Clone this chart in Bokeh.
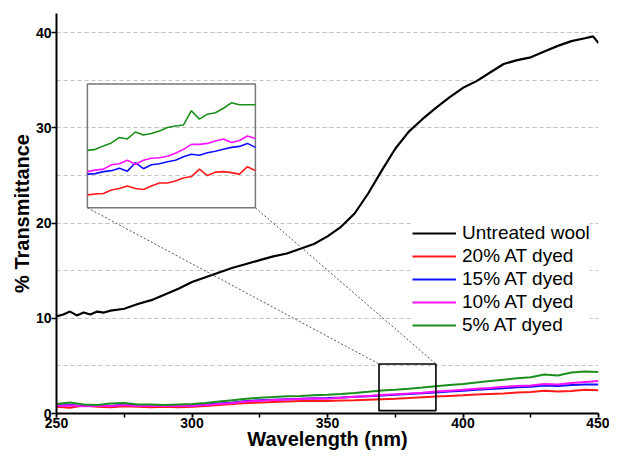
from bokeh.plotting import figure
from bokeh.models import Range1d, Legend, LegendItem, SingleIntervalTicker
from bokeh.embed import file_html
from bokeh.resources import INLINE

# ---------------- data ----------------
wl_black = [250, 252.5, 255, 257.5, 260, 262.5, 265, 267.5, 270, 275, 280, 285, 290, 295,
            300, 305, 310, 315, 320, 325, 330, 335, 340, 345, 350, 355, 360, 365, 370,
            375, 380, 385, 390, 395, 400, 405, 410, 415, 420, 425, 430, 435, 440, 445,
            448, 450]
untreated = [10.2, 10.4, 10.7, 10.3, 10.6, 10.4, 10.7, 10.6, 10.8, 11.0, 11.5, 11.9, 12.5,
             13.1, 13.8, 14.3, 14.8, 15.3, 15.7, 16.1, 16.5, 16.8, 17.3, 17.8, 18.6, 19.6,
             21.0, 23.1, 25.5, 27.8, 29.6, 30.9, 32.1, 33.2, 34.2, 34.9, 35.8, 36.7, 37.1,
             37.4, 38.0, 38.6, 39.1, 39.4, 39.6, 38.9]

wl_dyed = list(range(250, 455, 5))
at20 = [0.70, 0.60, 0.85, 0.70, 0.65, 0.75, 0.70, 0.65, 0.70, 0.65, 0.70, 0.80, 0.90, 1.00,
        1.10, 1.15, 1.20, 1.25, 1.30, 1.34, 1.32, 1.36, 1.40, 1.45, 1.50, 1.55, 1.62, 1.70,
        1.78, 1.85, 1.92, 2.00, 2.05, 2.10, 2.20, 2.25, 2.40, 2.30, 2.35, 2.50, 2.45]
at15 = [0.85, 0.90, 0.80, 0.85, 0.80, 0.95, 0.85, 0.80, 0.80, 0.85, 0.85, 0.95, 1.05, 1.15,
        1.30, 1.40, 1.45, 1.50, 1.55, 1.60, 1.62, 1.68, 1.75, 1.82, 1.90, 1.97, 2.05, 2.12,
        2.20, 2.30, 2.40, 2.50, 2.58, 2.65, 2.75, 2.80, 2.95, 2.90, 3.00, 3.05, 3.05]
at10 = [0.80, 0.85, 0.75, 0.80, 0.78, 0.88, 0.80, 0.78, 0.78, 0.80, 0.82, 0.90, 1.00, 1.10,
        1.25, 1.35, 1.42, 1.47, 1.52, 1.57, 1.55, 1.65, 1.75, 1.85, 1.95, 2.03, 2.10, 2.18,
        2.30, 2.40, 2.50, 2.60, 2.68, 2.80, 2.90, 2.95, 3.10, 3.05, 3.20, 3.30, 3.40]
at5 = [1.00, 1.15, 0.95, 0.90, 1.05, 1.10, 0.95, 0.95, 0.90, 0.95, 1.00, 1.10, 1.25, 1.40,
       1.55, 1.65, 1.72, 1.80, 1.85, 1.92, 1.97, 2.05, 2.15, 2.28, 2.42, 2.50, 2.60, 2.72,
       2.85, 3.00, 3.10, 3.25, 3.40, 3.55, 3.70, 3.80, 4.10, 4.00, 4.30, 4.40, 4.35]

# inset (zoomed view of 369-390 nm)
wl_inset = list(range(369, 391))
in20 = [1.47, 1.49, 1.50, 1.57, 1.60, 1.65, 1.60, 1.58, 1.65, 1.71, 1.71, 1.75, 1.81, 1.84,
        1.99, 1.86, 1.93, 1.94, 1.92, 1.89, 2.04, 1.96]
in15 = [1.89, 1.90, 1.94, 1.96, 2.01, 1.95, 2.12, 2.00, 2.08, 2.10, 2.14, 2.17, 2.24, 2.29,
        2.27, 2.32, 2.35, 2.39, 2.43, 2.45, 2.51, 2.43]
in10 = [1.94, 1.97, 1.99, 2.08, 2.10, 2.17, 2.09, 2.17, 2.21, 2.22, 2.25, 2.31, 2.39, 2.49,
        2.49, 2.51, 2.56, 2.60, 2.53, 2.57, 2.66, 2.61]
in5 = [2.37, 2.39, 2.46, 2.52, 2.63, 2.60, 2.74, 2.68, 2.71, 2.76, 2.83, 2.86, 2.88, 3.17,
       3.00, 3.10, 3.13, 3.22, 3.33, 3.29, 3.29, 3.29]

ZOOM_X = (369, 390)          # zoom window in main data coords
ZOOM_Y = (0.3, 5.2)
INSET_Y_SRC = (1.21, 3.71)   # inset value range
INSET_X_TGT = (261.4, 323.4) # inset placement in main data coords
INSET_Y_TGT = (21.6, 34.6)

labels = ["Untreated wool", "20% AT dyed", "15% AT dyed", "10% AT dyed", "5% AT dyed"]
colors = ["black", "#ff1a1a", "#1010ff", "#ff10ff", "#1b8f1b"]

# ---------------- figure ----------------
p = figure(width=609, height=452, output_backend="svg", toolbar_location=None,
           x_range=Range1d(250, 450), y_range=Range1d(0, 42),
           min_border_top=13, min_border_right=11, min_border_left=56, min_border_bottom=0)
p.outline_line_color = None
p.background_fill_color = "white"

xt = SingleIntervalTicker(interval=50, num_minor_ticks=2)
yt = SingleIntervalTicker(interval=10, num_minor_ticks=2)
p.xaxis.ticker = xt
p.yaxis.ticker = yt
p.xgrid.visible = False
p.ygrid.ticker = yt
p.ygrid.grid_line_color = "#c4c4c4"
p.ygrid.grid_line_dash = "4 3"
p.ygrid.minor_grid_line_color = "#c4c4c4"
p.ygrid.minor_grid_line_dash = "4 3"

FONT = "Liberation Sans"
for ax in (p.xaxis[0], p.yaxis[0]):
    ax.axis_line_width = 2
    ax.axis_line_color = "black"
    ax.major_tick_line_width = 1.5
    ax.major_tick_out = 5
    ax.major_tick_in = 0
    ax.major_label_text_font = FONT
    ax.major_label_text_font_style = "bold"
    ax.major_label_text_font_size = "14px"
    ax.major_label_text_color = "black"
    ax.major_label_standoff = 0
    ax.axis_label_text_font = FONT
    ax.axis_label_text_font_style = "bold"
    ax.axis_label_text_font_size = "20px"
    ax.axis_label_text_color = "black"
    ax.axis_label_standoff = 0
p.xaxis.major_tick_out = 4
p.xaxis.axis_label_standoff = -3
p.xaxis.minor_tick_line_width = 1.5
p.xaxis.minor_tick_out = 4
p.xaxis.minor_tick_in = 0
p.yaxis.minor_tick_line_color = None
p.xaxis.axis_label = "Wavelength (nm)"
p.yaxis.axis_label = "% Transmittance"

# main curves
r0 = p.line(wl_black, untreated, line_color=colors[0], line_width=2.2)
r1 = p.line(wl_dyed, at20, line_color=colors[1], line_width=2)
r2 = p.line(wl_dyed, at15, line_color=colors[2], line_width=2)
r3 = p.line(wl_dyed, at10, line_color=colors[3], line_width=2)
r4 = p.line(wl_dyed, at5, line_color=colors[4], line_width=2)

# zoom rectangle and connector lines
p.quad(left=[ZOOM_X[0]], right=[ZOOM_X[1]], bottom=[ZOOM_Y[0]], top=[ZOOM_Y[1]],
       fill_color=None, line_color="black", line_width=1.6)
p.segment(x0=[INSET_X_TGT[0], INSET_X_TGT[1]], y0=[INSET_Y_TGT[0], INSET_Y_TGT[0]],
          x1=[ZOOM_X[0], ZOOM_X[1]], y1=[ZOOM_Y[1], ZOOM_Y[1]],
          line_color="#555555", line_width=1, line_dash="2 2")

# inset
sub = p.subplot(x_source=Range1d(*ZOOM_X), y_source=Range1d(*INSET_Y_SRC),
                x_target=Range1d(*INSET_X_TGT), y_target=Range1d(*INSET_Y_TGT))
sub.quad(left=[ZOOM_X[0]], right=[ZOOM_X[1]], bottom=[INSET_Y_SRC[0]], top=[INSET_Y_SRC[1]],
         fill_color=None, line_color="#777777", line_width=1.5)
sub.line(wl_inset, in20, line_color=colors[1], line_width=1.6)
sub.line(wl_inset, in15, line_color=colors[2], line_width=1.6)
sub.line(wl_inset, in10, line_color=colors[3], line_width=1.6)
sub.line(wl_inset, in5, line_color=colors[4], line_width=1.6)

legend = Legend(items=[LegendItem(label=l, renderers=[r]) for l, r in zip(labels, [r0, r1, r2, r3, r4])],
                location=(356, 77), margin=0, padding=10, spacing=1,
                label_height=22, glyph_height=22, glyph_width=44, label_standoff=6,
                label_text_font=FONT, label_text_font_size="19px", label_text_color="black",
                background_fill_color="white", background_fill_alpha=1.0,
                border_line_color=None)
p.add_layout(legend)

open("out.html", "w").write(file_html(p, INLINE))
